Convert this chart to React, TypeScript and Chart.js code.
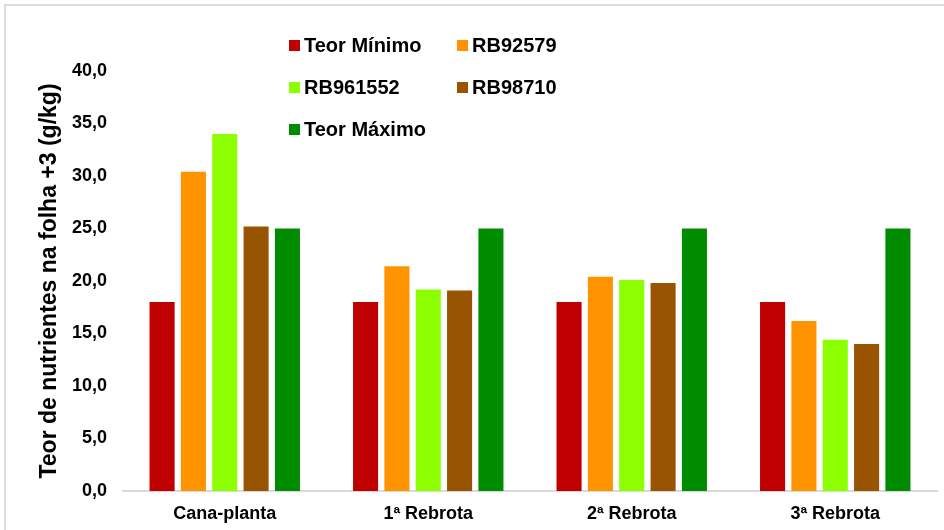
import React, { useEffect, useRef } from "react";
import { Chart, registerables } from "chart.js";

Chart.register(...registerables);

const categories = ["Cana-planta", "1ª Rebrota", "2ª Rebrota", "3ª Rebrota"];
const teorMinimo = [18.0, 18.0, 18.0, 18.0];
const rb92579 = [30.4, 21.4, 20.4, 16.2];
const rb961552 = [34.0, 19.2, 20.1, 14.4];
const rb98710 = [25.2, 19.1, 19.8, 14.0];
const teorMaximo = [25.0, 25.0, 25.0, 25.0];
const seriesNames = ["Teor Mínimo", "RB92579", "RB961552", "RB98710", "Teor Máximo"];
const seriesColors = ["#C00000", "#FF9300", "#8CFF00", "#985400", "#008C00"];
const yTitle = "Teor de nutrientes na folha +3 (g/kg)";

const FONT = "'Liberation Sans', Arial, sans-serif";

export default function App() {
  const ref = useRef<HTMLCanvasElement | null>(null);

  useEffect(() => {
    if (!ref.current) return;
    const values = [teorMinimo, rb92579, rb961552, rb98710, teorMaximo];
    const chart = new Chart(ref.current, {
      type: "bar",
      data: {
        labels: categories,
        datasets: values.map((v, i) => ({
          label: seriesNames[i],
          data: v,
          backgroundColor: seriesColors[i],
          borderWidth: 0,
          categoryPercentage: 0.77,
          barPercentage: 0.8,
        })),
      },
      options: {
        responsive: false,
        animation: false,
        maintainAspectRatio: false,
        layout: { padding: { top: 71, right: 7, left: 0, bottom: 0 } },
        plugins: {
          legend: { display: false },
          tooltip: { enabled: false },
        },
        scales: {
          x: {
            grid: { display: false, drawTicks: false },
            border: { display: true, color: "#d9d9d9", width: 2 },
            ticks: {
              color: "#000",
              padding: 12,
              font: { family: FONT, size: 18, weight: "bold" },
            },
            afterFit: (s: any) => {
              s.height = 39;
            },
          },
          y: {
            min: 0,
            max: 40,
            grid: { display: false, drawTicks: false },
            border: { display: false },
            ticks: {
              stepSize: 5,
              color: "#000",
              padding: 16,
              font: { family: FONT, size: 18, weight: "bold" },
              callback: (v: any) => Number(v).toFixed(1).replace(".", ","),
            },
            title: {
              display: true,
              text: yTitle,
              color: "#000",
              padding: { top: 36, bottom: 0 },
              font: { family: FONT, size: 23, weight: "bold" },
            },
            afterFit: (s: any) => {
              s.width = 123;
            },
          },
        },
      },
    });
    return () => chart.destroy();
  }, []);

  const legendPos = [
    { x: 289, y: 45 },
    { x: 457, y: 45 },
    { x: 289, y: 87 },
    { x: 457, y: 87 },
    { x: 289, y: 129 },
  ];

  return (
    <div style={{ position: "absolute", left: 0, top: 0, width: 944, height: 530, overflow: "hidden", background: "#fff" }}>
      <div
        style={{
          position: "absolute",
          left: 4,
          top: 4,
          width: 960,
          height: 560,
          borderLeft: "2px solid #dcdcdc",
          borderTop: "2px solid #dcdcdc",
          boxSizing: "border-box",
        }}
      />
      <canvas ref={ref} width={944} height={530} style={{ position: "absolute", left: 0, top: 0 }} />
      {seriesNames.map((n, i) => (
        <div
          key={n}
          style={{
            position: "absolute",
            left: legendPos[i].x,
            top: legendPos[i].y - 13,
            height: 26,
            display: "flex",
            alignItems: "center",
            fontFamily: FONT,
            fontWeight: "bold",
            fontSize: 20,
            color: "#000",
            whiteSpace: "nowrap",
          }}
        >
          <span style={{ display: "inline-block", width: 11, height: 11, background: seriesColors[i], marginRight: 4 }} />
          <span>{n}</span>
        </div>
      ))}
    </div>
  );
}
